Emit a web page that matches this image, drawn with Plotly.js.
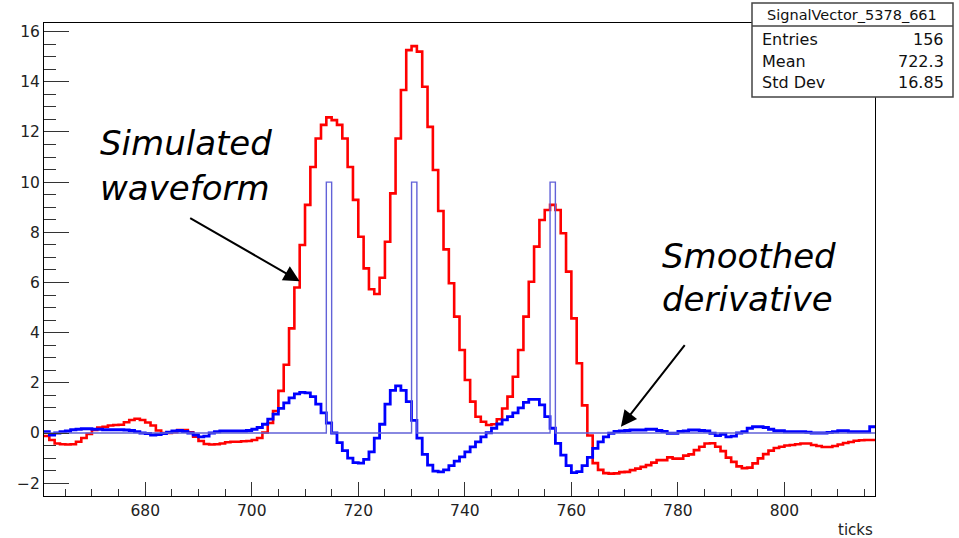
<!DOCTYPE html>
<html>
<head>
<meta charset="utf-8">
<script src="https://cdn.plot.ly/plotly-3.0.1.min.js"></script>
<style>
  html, body { margin: 0; padding: 0; background: #fff; }
  #chart { width: 959px; height: 538px; }
</style>
</head>
<body>
<div id="chart"></div>
<script>
// ---------------- data ----------------
const binLow = 661;          // first bin lower edge (ticks)
const nBins = 156;           // Entries
const statsTitle = "SignalVector_5378_661";
const statsLabels = ["Entries", "Mean", "Std Dev"];
const statsValues = ["156", "722.3", "16.85"];

// simulated waveform (red), one value per 1-tick bin starting at 661
const signal = [
  -0.12, -0.28, -0.42, -0.45, -0.46, -0.45, -0.35, -0.20, -0.04, 0.12,
  0.22, 0.25, 0.30, 0.32, 0.33, 0.43, 0.52, 0.57, 0.52, 0.42,
  0.30, 0.10, 0.00, 0.00, 0.03, 0.12, 0.12, 0.03, -0.15, -0.32,
  -0.44, -0.46, -0.45, -0.42, -0.37, -0.35, -0.35, -0.33, -0.32, -0.28,
  -0.20, 0.02, 0.40, 0.88, 1.68, 2.72, 4.17, 5.80, 7.49, 9.09,
  10.60, 11.74, 12.28, 12.58, 12.47, 12.28, 11.74, 10.60, 9.29, 7.82,
  6.56, 5.73, 5.54, 6.19, 7.62, 9.55, 11.74, 13.67, 15.26, 15.42,
  15.20, 13.80, 12.20, 10.48, 8.85, 7.32, 5.97, 4.64, 3.31, 2.11,
  1.25, 0.65, 0.45, 0.32, 0.35, 0.55, 0.98, 1.45, 2.24, 3.31,
  4.64, 6.03, 7.43, 8.49, 8.89, 9.09, 8.89, 7.96, 6.43, 4.57,
  2.78, 1.10, -0.10, -1.20, -1.47, -1.60, -1.62, -1.61, -1.56, -1.55,
  -1.48, -1.42, -1.35, -1.28, -1.18, -1.08, -1.08, -0.97, -1.02, -1.02,
  -0.90, -0.85, -0.68, -0.55, -0.42, -0.41, -0.55, -0.72, -0.98, -1.15,
  -1.33, -1.40, -1.38, -1.21, -1.01, -0.84, -0.70, -0.60, -0.55, -0.50,
  -0.48, -0.45, -0.42, -0.42, -0.48, -0.52, -0.56, -0.56, -0.52, -0.46,
  -0.40, -0.36, -0.31, -0.29, -0.28, -0.28
];

// smoothed derivative (blue)
const derivative = [
  0.05, -0.08, 0.00, 0.05, 0.08, 0.13, 0.15, 0.17, 0.17, 0.15,
  0.15, 0.13, 0.13, 0.13, 0.13, 0.12, 0.10, 0.05, 0.00, -0.02,
  -0.08, -0.06, -0.02, 0.03, 0.08, 0.10, 0.06, 0.00, -0.08, -0.15,
  -0.12, 0.00, 0.05, 0.08, 0.08, 0.08, 0.08, 0.08, 0.10, 0.15,
  0.22, 0.35, 0.55, 0.75, 0.98, 1.20, 1.40, 1.56, 1.62, 1.60,
  1.45, 1.15, 0.80, 0.40, 0.00, -0.38, -0.70, -1.00, -1.18, -1.20,
  -1.05, -0.75, -0.20, 0.35, 1.15, 1.70, 1.88, 1.70, 1.25, 0.50,
  -0.20, -0.85, -1.28, -1.52, -1.55, -1.47, -1.30, -1.12, -0.95, -0.75,
  -0.55, -0.35, -0.15, 0.01, 0.19, 0.36, 0.52, 0.65, 0.80, 1.00,
  1.22, 1.34, 1.34, 1.12, 0.65, 0.19, -0.41, -0.88, -1.30, -1.58,
  -1.54, -1.30, -0.97, -0.61, -0.35, -0.15, -0.01, 0.06, 0.08, 0.10,
  0.12, 0.12, 0.12, 0.15, 0.15, 0.10, 0.06, -0.01, -0.01, 0.06,
  0.08, 0.12, 0.12, 0.10, 0.08, -0.01, -0.10, -0.05, -0.15, -0.12,
  0.00, 0.05, 0.19, 0.25, 0.25, 0.22, 0.15, 0.09, 0.09, 0.05,
  0.05, 0.05, 0.05, 0.03, 0.00, 0.00, 0.00, 0.02, 0.05, 0.09,
  0.09, 0.05, 0.05, 0.05, 0.05, 0.25
];

// found hits (thin blue histogram): bins and heights
const hitBins = [714, 730, 756];
const hitHeights = [10, 10, 10];

// ---------------- build step histograms ----------------
function stepXY(vals) {
  const x = [], y = [];
  for (let i = 0; i < vals.length; i++) { x.push(binLow + i); y.push(vals[i]); }
  x.push(binLow + vals.length); y.push(vals[vals.length - 1]);
  return {x, y};
}
const hits = new Array(nBins).fill(0);
hitBins.forEach((b, k) => { hits[b - binLow] = hitHeights[k]; });

const sRed = stepXY(signal), sBlue = stepXY(derivative), sHit = stepXY(hits);

const traces = [
  {x: sRed.x, y: sRed.y, type: 'scatter', mode: 'lines', line: {shape: 'hv', color: '#ff0000', width: 2.6}, hoverinfo: 'skip'},
  {x: sBlue.x, y: sBlue.y, type: 'scatter', mode: 'lines', line: {shape: 'hv', color: '#0000ff', width: 2.8}, hoverinfo: 'skip'},
  {x: sHit.x, y: sHit.y, type: 'scatter', mode: 'lines', line: {shape: 'hv', color: '#6262d8', width: 1.4}, hoverinfo: 'skip'}
];

// ---------------- layout helpers (pixel -> paper) ----------------
const L = 44, R = 84, T = 23, B = 42, W = 959, H = 538;
const PW = W - L - R, PH = H - T - B;
const px = v => (v - L) / PW;
const py = v => (H - B - v) / PH;

const sansFont = 'DejaVu Sans, Liberation Sans, Arial, sans-serif';
const handFont = {family: 'DejaVu Sans, sans-serif', size: 34, color: '#000', style: 'italic'};

const annotations = [
  {xref: 'paper', yref: 'paper', x: px(98), y: py(143), xanchor: 'left', yanchor: 'middle', text: 'Simulated', showarrow: false, font: handFont},
  {xref: 'paper', yref: 'paper', x: px(98), y: py(188), xanchor: 'left', yanchor: 'middle', text: 'waveform', showarrow: false, font: handFont},
  {xref: 'paper', yref: 'paper', x: px(660), y: py(256), xanchor: 'left', yanchor: 'middle', text: 'Smoothed', showarrow: false, font: handFont},
  {xref: 'paper', yref: 'paper', x: px(660), y: py(299), xanchor: 'left', yanchor: 'middle', text: 'derivative', showarrow: false, font: handFont},
  // arrows (tip given in data coordinates)
  {xref: 'x', yref: 'y', x: 709.0, y: 6.05, ax: -111, ay: -64, text: '', showarrow: true, arrowhead: 2, arrowsize: 1.6, arrowwidth: 2, arrowcolor: '#000'},
  {xref: 'x', yref: 'y', x: 769.3, y: 0.25, ax: 65, ay: -83, text: '', showarrow: true, arrowhead: 2, arrowsize: 1.6, arrowwidth: 2, arrowcolor: '#000'},
  // x axis title, right aligned like ROOT
  {xref: 'paper', yref: 'paper', x: 1, y: py(530), xanchor: 'right', yanchor: 'middle', text: 'ticks', showarrow: false, font: {family: sansFont, size: 15, color: '#222'}},
  // stats box text
  {xref: 'paper', yref: 'paper', x: px(852), y: py(15), xanchor: 'center', yanchor: 'middle', text: statsTitle, showarrow: false, font: {family: sansFont, size: 14.5, color: '#111'}}
];
statsLabels.forEach((lab, k) => {
  const yy = [40, 61.5, 82.5][k];
  annotations.push({xref: 'paper', yref: 'paper', x: px(760), y: py(yy), xanchor: 'left', yanchor: 'middle', text: lab, showarrow: false, font: {family: sansFont, size: 16, color: '#111'}});
  annotations.push({xref: 'paper', yref: 'paper', x: px(946), y: py(yy), xanchor: 'right', yanchor: 'middle', text: statsValues[k], showarrow: false, font: {family: sansFont, size: 16, color: '#111'}});
});

const shapes = [
  {type: 'rect', xref: 'paper', yref: 'paper', x0: px(752), x1: px(953), y0: py(97), y1: py(3), fillcolor: '#fff', line: {color: '#444', width: 1.5}, layer: 'above'},
  {type: 'line', xref: 'paper', yref: 'paper', x0: px(752), x1: px(953), y0: py(26), y1: py(26), line: {color: '#444', width: 1.5}, layer: 'above'}
];

const axisCommon = {
  showgrid: false, zeroline: false, showline: true, mirror: true, linecolor: '#000', linewidth: 1,
  ticks: 'inside', tickcolor: '#333', tickwidth: 1,
  tickfont: {family: sansFont, size: 15.5, color: '#222'}
};

const layout = {
  width: W, height: H,
  margin: {l: L, r: R, t: T, b: B, pad: 0},
  paper_bgcolor: '#fff', plot_bgcolor: '#fff',
  showlegend: false,
  xaxis: Object.assign({}, axisCommon, {
    range: [binLow, binLow + nBins], tick0: 680, dtick: 20, ticklen: 14,
    minor: {dtick: 5, tick0: 660, ticks: 'inside', ticklen: 7, tickcolor: '#333', tickwidth: 1}
  }),
  yaxis: Object.assign({}, axisCommon, {
    range: [-2.51, 16.34], tick0: 0, dtick: 2, ticklen: 25,
    minor: {dtick: 0.5, tick0: 0, ticks: 'inside', ticklen: 12, tickcolor: '#333', tickwidth: 1}
  }),
  annotations: annotations,
  shapes: shapes
};

Plotly.newPlot('chart', traces, layout, {displayModeBar: false, staticPlot: true});
</script>
</body>
</html>
